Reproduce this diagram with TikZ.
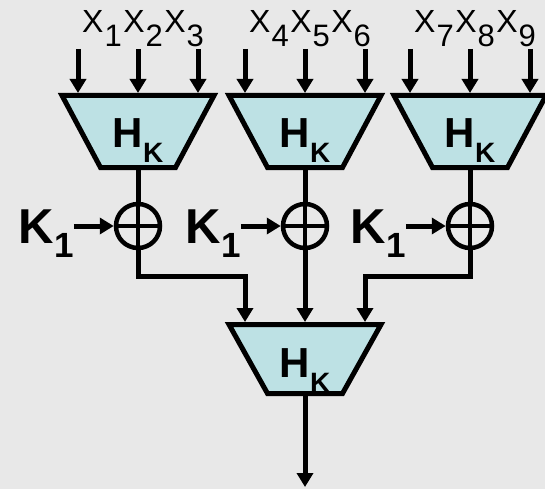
\documentclass[tikz,border=0pt]{standalone}
\usepackage{fontspec}
\setmainfont{Liberation Sans}
\usetikzlibrary{arrows.meta,calc}
\definecolor{bgc}{RGB}{232,232,232}
\definecolor{tfill}{RGB}{189,225,228}
\newcommand\xxs[1]{X\kern1pt\raisebox{-14pt}{\fontsize{31}{31}\selectfont #1}\kern1.5pt}
\newcommand\hkl{H\raisebox{-15pt}{\fontsize{28}{28}\selectfont K}}
\newcommand\klab{K\raisebox{-14pt}{\fontsize{35}{35}\selectfont 1}}
\tikzset{
  wire/.style={line width=5pt,line join=miter},
  arr/.style={wire,-{Triangle[length=14pt,width=16pt]}},
  trapz/.style={line width=5pt,fill=tfill,line join=miter},
  hk/.style={font=\fontsize{42}{42}\selectfont\bfseries,inner sep=0pt,anchor=base},
  kl/.style={font=\fontsize{49}{49}\selectfont\bfseries,inner sep=0pt,anchor=base west},
  xl/.style={font=\fontsize{32}{32}\selectfont,inner sep=0pt,anchor=base west},
  xorc/.style={circle,draw,line width=4.5pt,minimum size=44pt,inner sep=0pt},
}
\begin{document}
\begin{tikzpicture}[x=1pt,y=-1pt]
\useasboundingbox (0,0) rectangle (545,489);
\fill[bgc] (0,0) rectangle (545,489);
\begin{scope}
\clip (0,0) rectangle (545,489);
\coordinate (lvl) at (0,276);
\foreach \c/\a/\b/\d [count=\i] in {138/1/2/3,305/4/5/6,470/7/8/9}{
  \draw[trapz] ({\c-76},95.5) -- ({\c+76},95.5) -- ({\c+37.5},167.5) -- ({\c-37.5},167.5) -- cycle;
  \coordinate (tb\i) at (\c,167.5);
  \node[hk] (h\i) at (\c,147) {\hkl};
  \node[xl] (xl\i) at ({\c-56},33) {\xxs{\a}\xxs{\b}\xxs{\d}};
  \foreach \dx [count=\j] in {-60,0,60}{
    \coordinate (in\i\j) at ({\c+\dx},49);
    \coordinate (ti\i\j) at ({\c+\dx},93);
    \draw[arr] (in\i\j) -- (ti\i\j);
  }
  \node[xorc] (x\i) at (\c,226) {};
  \draw[wire,line width=4.5pt] (x\i.north) -- (x\i.south) (x\i.west) -- (x\i.east);
  \draw[wire] (tb\i) -- (x\i.north);
  \node[kl] (k\i) at ({\c-119.5},243) {\klab};
  \draw[arr] (k\i.east |- x\i) -- (x\i.west);
}
\draw[trapz] (229,324.5) -- (381,324.5) -- (342.5,393.5) -- (267.5,393.5) -- cycle;
\node[hk] (hb) at (305,377) {\hkl};
\coordinate (bi1) at (245,322);
\coordinate (bi2) at (305,322);
\coordinate (bi3) at (365,322);
\draw[arr] (x1.south) -- (x1.south |- lvl) -| (bi1);
\draw[arr] (x2.south) -- (bi2);
\draw[arr] (x3.south) -- (x3.south |- lvl) -| (bi3);
\coordinate (bo) at (305,393.5);
\coordinate (out) at (305,487);
\draw[arr] (bo) -- (out);
\end{scope}
\end{tikzpicture}
\end{document}
